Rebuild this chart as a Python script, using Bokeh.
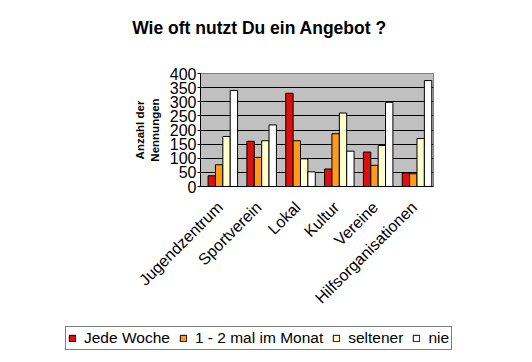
from math import pi
from bokeh.plotting import figure
from bokeh.layouts import column
from bokeh.models import ColumnDataSource, FactorRange, Legend, LegendItem, Label
from bokeh.transform import dodge
from bokeh.embed import file_html
from bokeh.resources import INLINE

title_text = "Wie oft nutzt Du ein Angebot ?"
categories = ["Jugendzentrum", "Sportverein", "Lokal", "Kultur", "Vereine", "Hilfsorganisationen"]
series_names = ["Jede Woche", "1 - 2 mal im Monat", "seltener", "nie"]
jede_woche = [38, 160, 330, 62, 122, 48]
ein_zwei_monat = [77, 103, 162, 187, 75, 45]
seltener = [177, 162, 98, 260, 145, 170]
nie = [340, 218, 52, 125, 298, 375]
y_ticks = [0, 50, 100, 150, 200, 250, 300, 350, 400]

colors = ["#DD1010", "#FF9A1A", "#FFFFCC", "#FFFFFF"]
offsets = [-0.21, -0.02, 0.17, 0.36]
keys = ["s0", "s1", "s2", "s3"]

src = ColumnDataSource(dict(cat=categories, s0=jede_woche, s1=ein_zwei_monat, s2=seltener, s3=nie))

FONT = "Liberation Sans"

# title strip
tf = figure(width=516, height=46, output_backend="svg", toolbar_location=None, frame_align=False,
            x_axis_location=None, y_axis_location=None, min_border=0,
            x_range=(0, 1), y_range=(0, 1))
tf.grid.grid_line_color = None
tf.outline_line_color = None
tf.background_fill_color = "white"
tf.border_fill_color = "white"
tf.add_layout(Label(x=259, y=19, x_units="screen", y_units="screen", text=title_text,
                    text_align="center", text_baseline="middle", text_font=FONT,
                    text_font_size="17.5px", text_font_style="bold", text_color="black"))

# main chart
p = figure(width=516, height=272, x_range=FactorRange(*categories), y_range=(0, 400),
           output_backend="svg", toolbar_location=None, frame_align=False,
           min_border_left=200, min_border_right=83, min_border_top=27, min_border_bottom=132)
p.background_fill_color = "#C0C0C0"
p.border_fill_color = "white"
p.outline_line_color = "#808080"

for i, key in enumerate(keys):
    p.vbar(x=dodge("cat", offsets[i], range=p.x_range), top=key, width=0.19, source=src,
           fill_color=colors[i], line_color="black", line_width=1)

p.ygrid.grid_line_color = "black"
p.ygrid.grid_line_width = 1
p.xgrid.grid_line_color = None

p.yaxis.ticker = y_ticks
p.yaxis.axis_line_color = "black"
p.yaxis.major_tick_line_color = "black"
p.yaxis.major_tick_out = 3
p.yaxis.major_tick_in = 0
p.yaxis.minor_tick_line_color = None
p.yaxis.major_label_standoff = 1
p.yaxis.major_label_text_font = FONT
p.yaxis.major_label_text_font_size = "16px"
p.yaxis.major_label_text_color = "black"
p.yaxis.axis_label = "Anzahl der\nNennungen"
p.yaxis.axis_label_text_font = FONT
p.yaxis.axis_label_text_font_size = "11.5px"
p.yaxis.axis_label_text_font_style = "bold"
p.yaxis.axis_label_text_color = "black"
p.yaxis.axis_label_standoff = 6

p.xaxis.axis_line_color = "black"
p.xaxis.major_tick_line_color = None
p.xaxis.major_label_orientation = pi / 4
p.xaxis.major_label_text_font = FONT
p.xaxis.major_label_text_font_size = "16px"
p.xaxis.major_label_text_color = "black"
p.xaxis.major_label_standoff = 12

# legend strip below the chart
lg = figure(width=516, height=44, output_backend="svg", toolbar_location=None, frame_align=False,
            x_axis_location=None, y_axis_location=None, min_border=0,
            x_range=FactorRange(*categories), y_range=(0, 1))
lg.grid.grid_line_color = None
lg.outline_line_color = None
lg.background_fill_color = "white"
lg.border_fill_color = "white"
items = []
for i, name in enumerate(series_names):
    r = lg.vbar(x="cat", top=keys[i], width=0.1, source=src, fill_color=colors[i],
                line_color="black", visible=False)
    items.append(LegendItem(label=name, renderers=[r]))

legend = Legend(items=items, orientation="horizontal", location=(65, 12),
                label_text_font=FONT, label_text_font_size="15.5px", label_text_color="black",
                glyph_width=8, glyph_height=8, label_standoff=8, spacing=9,
                padding=2, margin=0, label_height=14, inactive_fill_alpha=0,
                border_line_color="black", border_line_width=1, background_fill_color="white")
lg.add_layout(legend, "center")

open("out.html", "w").write(file_html(column(tf, p, lg, spacing=0), INLINE))
